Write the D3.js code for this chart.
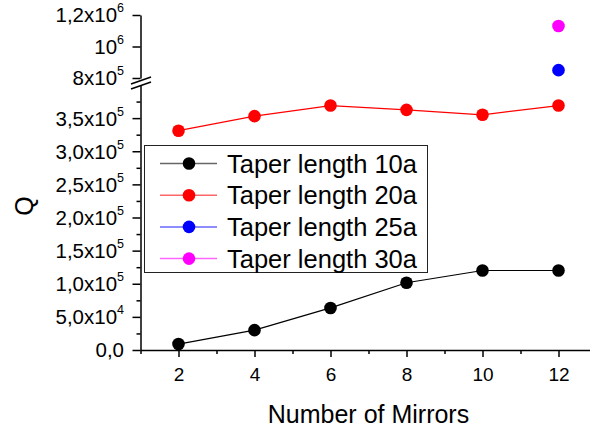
<!DOCTYPE html>
<html><head><meta charset="utf-8">
<script src="https://cdn.jsdelivr.net/npm/d3@7/dist/d3.min.js"></script>
<style>body{margin:0;background:#fff}svg{display:block;font-family:"Liberation Sans",Arial,sans-serif}</style>
</head><body>
<svg id="c" width="590" height="432"></svg>
<script>
const mirrors = [2, 4, 6, 8, 10, 12];
const q10a = [9000, 30000, 63500, 101500, 120000, 120000];
const q20a = [331000, 353000, 369000, 362500, 355000, 369000];
const mirrors25 = [12];
const q25a = [850000];
const mirrors30 = [12];
const q30a = [1130000];
const xTicks = [2, 4, 6, 8, 10, 12];
const lowerTicks = [0, 50000, 100000, 150000, 200000, 250000, 300000, 350000];
const lowerTickLabels = [["0,0", ""], ["5,0x10", "4"], ["1,0x10", "5"], ["1,5x10", "5"], ["2,0x10", "5"], ["2,5x10", "5"], ["3,0x10", "5"], ["3,5x10", "5"]];
const upperTicks = [800000, 1000000, 1200000];
const upperTickLabels = [["8x10", "5"], ["10", "6"], ["1,2x10", "6"]];
const seriesNames = ["Taper length 10a", "Taper length 20a", "Taper length 25a", "Taper length 30a"];
const seriesColors = ["#000000", "#ff0000", "#0000ff", "#ff00ff"];

const svg = d3.select("#c");
const x = d3.scaleLinear().domain([1, 13]).range([140.5, 596.5]);
const yLow = d3.scaleLinear().domain([0, 400000]).range([350, 85]);
const yUp = d3.scaleLinear().domain([800000, 1200000]).range([78, 15]);

function styleAxis(g) {
  g.selectAll("path,line").attr("stroke", "#000").attr("stroke-width", 1.5);
}

// X axis
const xAxisG = svg.append("g").attr("transform", "translate(0,350)")
  .call(d3.axisBottom(x).tickValues(xTicks).tickSize(7).tickSizeOuter(0).tickFormat(d3.format("d")));
styleAxis(xAxisG);
svg.append("g").attr("transform", "translate(0,350)")
  .call(d3.axisBottom(x).tickValues([1, 3, 5, 7, 9, 11, 13]).tickSize(4).tickSizeOuter(0).tickFormat(""))
  .call(g => g.select(".domain").remove())
  .call(styleAxis);
xAxisG.selectAll("text").attr("font-size", 19).attr("font-family", "Liberation Sans, Arial, sans-serif").attr("fill", "#000").attr("dy", "1.1em");

function yAxis(scale, ticks, labels, minors) {
  const g = svg.append("g").attr("transform", "translate(140.5,0)")
    .call(d3.axisLeft(scale).tickValues(ticks).tickSize(8).tickSizeOuter(0).tickFormat(""));
  styleAxis(g);
  if (minors) {
    svg.append("g").attr("transform", "translate(140.5,0)")
      .call(d3.axisLeft(scale).tickValues(minors).tickSize(4).tickSizeOuter(0).tickFormat(""))
      .call(gg => gg.select(".domain").remove())
      .call(styleAxis);
  }
  ticks.forEach((t, i) => {
    const [base, sup] = labels[i];
    const tx = svg.append("text").attr("x", 124).attr("y", scale(t)).attr("dy", "0.36em")
      .attr("text-anchor", "end").attr("font-size", 20.5).attr("fill", "#000");
    tx.append("tspan").text(base);
    if (sup) tx.append("tspan").attr("font-size", 12.5).attr("dy", "-0.8em").text(sup);
  });
  return g;
}
const lowMinors = d3.range(25000, 400000, 50000);
yAxis(yLow, lowerTicks, lowerTickLabels, lowMinors);
yAxis(yUp, upperTicks, upperTickLabels, null);

// Break marks
svg.append("polygon").attr("points", "131,84 151,77 151,82 131,89").attr("fill", "#fff");
svg.append("line").attr("x1", 131).attr("y1", 84).attr("x2", 151).attr("y2", 77).attr("stroke", "#000").attr("stroke-width", 1.5);
svg.append("line").attr("x1", 131).attr("y1", 89).attr("x2", 151).attr("y2", 82).attr("stroke", "#000").attr("stroke-width", 1.5);

// Series
const r = 6.3;
function series(xs, ys, scale, color) {
  const pts = xs.map((d, i) => [x(d), scale(ys[i])]);
  if (pts.length > 1) {
    svg.append("path").attr("d", d3.line()(pts)).attr("fill", "none").attr("stroke", color).attr("stroke-width", 1.2);
  }
  svg.append("g").selectAll("circle").data(pts).join("circle")
    .attr("cx", d => d[0]).attr("cy", d => d[1]).attr("r", r).attr("fill", color);
}
series(mirrors, q10a, yLow, seriesColors[0]);
series(mirrors, q20a, yLow, seriesColors[1]);
series(mirrors25, q25a, yUp, seriesColors[2]);
series(mirrors30, q30a, yUp, seriesColors[3]);

// Legend
const lg = svg.append("g");
lg.append("rect").attr("x", 144.5).attr("y", 145.5).attr("width", 283).attr("height", 127)
  .attr("fill", "#fff").attr("stroke", "#222").attr("stroke-width", 1);
seriesNames.forEach((n, i) => {
  const cy = 163.5 + i * 31.7;
  lg.append("line").attr("x1", 160).attr("x2", 217).attr("y1", cy).attr("y2", cy)
    .attr("stroke", seriesColors[i]).attr("stroke-opacity", 0.6).attr("stroke-width", 1.5);
  lg.append("circle").attr("cx", 189).attr("cy", cy).attr("r", 6.3).attr("fill", seriesColors[i]);
  lg.append("text").attr("x", 227).attr("y", cy).attr("dy", "0.36em").attr("font-size", 25.5).attr("fill", "#000").text(n);
});

// Axis titles
svg.append("text").attr("x", 368.5).attr("y", 423).attr("text-anchor", "middle").attr("font-size", 25).attr("fill", "#000").text("Number of Mirrors");
svg.append("text").attr("transform", "translate(33,206) rotate(-90)").attr("text-anchor", "middle").attr("font-size", 25).attr("fill", "#000").text("Q");
</script>
</body></html>
